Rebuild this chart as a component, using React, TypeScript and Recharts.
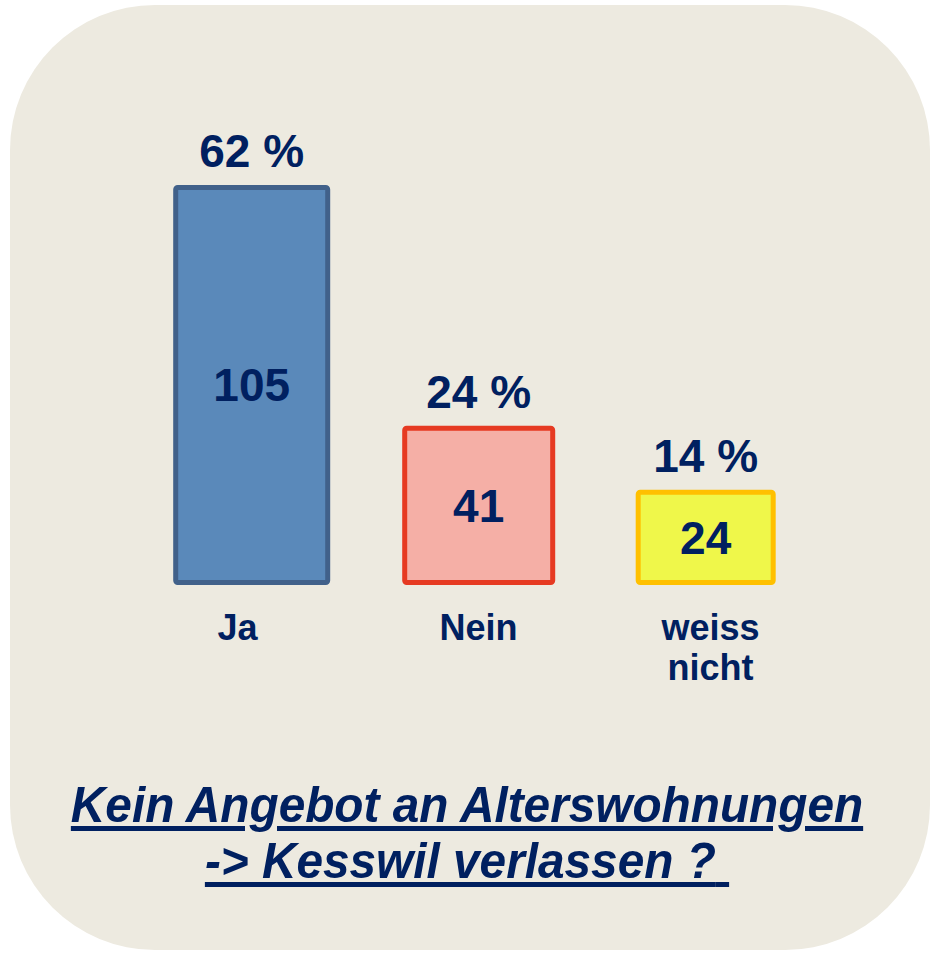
import { BarChart, Bar, XAxis, YAxis, LabelList } from "recharts";

const categories = ["Ja", "Nein", "weiss nicht"];
const counts = [105, 41, 24];
const percents = [62, 24, 14];

const data = categories.map((name, i) => ({ name, count: counts[i], pct: percents[i] }));

const NAVY = "#002060";
const FONT = "'Liberation Sans', Arial, sans-serif";
const fills = ["#5a89ba", "#f5afa6", "#eff74a"];
const strokes = ["#41618a", "#e63a22", "#ffc000"];
const barWidths = [152, 148, 135];
const tickNudge = [-14, 0, 5];

const BarShape = (props: any) => {
  const { x, y, width, height, index } = props;
  const w = barWidths[index];
  const cx = x + width / 2;
  return (
    <rect
      x={cx - w / 2}
      y={y}
      width={w}
      height={height}
      rx={2}
      fill={fills[index]}
      stroke={strokes[index]}
      strokeWidth={5}
    />
  );
};

const PctLabel = (props: any) => {
  const { x, y, width, value } = props;
  return (
    <text
      x={x + width / 2}
      y={y - 20.5}
      textAnchor="middle"
      fill={NAVY}
      fontFamily={FONT}
      fontWeight="bold"
      fontSize={46}
    >
      {`${value} %`}
    </text>
  );
};

const CategoryTick = (props: any) => {
  const { x, y, payload, index } = props;
  const lines = String(payload.value).split(" ");
  return (
    <text
      x={x + tickNudge[index]}
      y={y + 49.5}
      textAnchor="middle"
      fill={NAVY}
      fontFamily={FONT}
      fontWeight="bold"
      fontSize={36}
    >
      {lines.map((l, i) => (
        <tspan key={i} x={x + tickNudge[index]} dy={i === 0 ? 0 : 40}>
          {l}
        </tspan>
      ))}
    </text>
  );
};

export default function App() {
  return (
    <div style={{ position: "absolute", left: 0, top: 0, width: 934, height: 956, background: "#fff" }}>
      <div
        style={{
          position: "absolute",
          left: 10,
          top: 5,
          width: 920,
          height: 945,
          borderRadius: 145,
          background: "#edeae0",
        }}
      />
      <div style={{ position: "absolute", left: 0, top: 0 }}>
        <BarChart
          width={934}
          height={700}
          data={data}
          margin={{ top: 187.5, right: 115, left: 138, bottom: 0 }}
        >
          <YAxis hide domain={[0, "dataMax"]} />
          <XAxis
            dataKey="name"
            height={117.5}
            axisLine={false}
            tickLine={false}
            interval={0}
            tick={<CategoryTick />}
          />
          <Bar dataKey="count" isAnimationActive={false} shape={<BarShape />}>
            <LabelList dataKey="pct" content={<PctLabel />} />
            <LabelList
              dataKey="count"
              position="center"
              fill={NAVY}
              fontFamily={FONT}
              fontWeight="bold"
              fontSize={46}
            />
          </Bar>
        </BarChart>
      </div>
      <div
        style={{
          position: "absolute",
          left: 0,
          top: 776.7,
          width: 934,
          textAlign: "center",
          fontFamily: FONT,
          fontWeight: "bold",
          fontStyle: "italic",
          fontSize: 50,
          lineHeight: "56px",
          color: NAVY,
          textDecoration: "underline",
          textDecorationThickness: 5,
          textUnderlineOffset: 4,
          transform: "scaleX(0.955)",
          transformOrigin: "center",
          whiteSpace: "nowrap",
        }}
      >
        <div>Kein Angebot an Alterswohnungen</div>
        <div>-&gt; Kesswil verlassen ?{"\u00a0"}</div>
      </div>
    </div>
  );
}
